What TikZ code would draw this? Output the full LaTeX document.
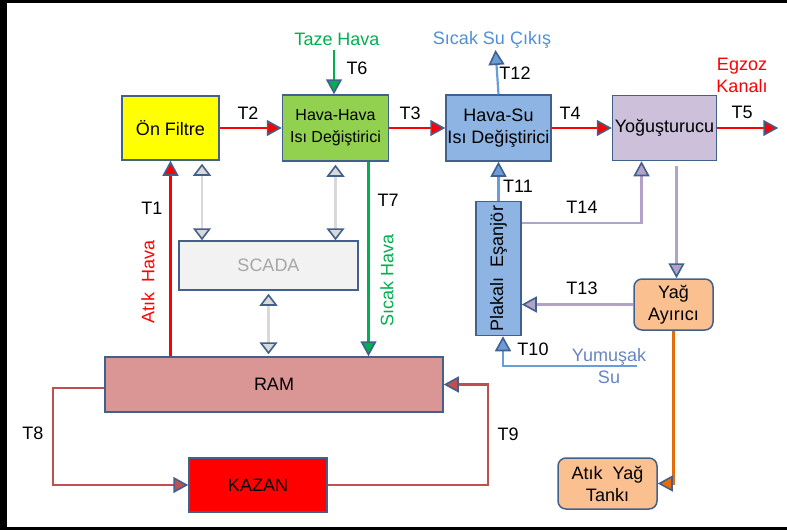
\documentclass[tikz,border=0pt]{standalone}
\usepackage{fontspec}
\setmainfont{Liberation Sans}
\usetikzlibrary{arrows.meta,positioning,calc}
\definecolor{boxline}{HTML}{41618C}
\definecolor{filteryellow}{HTML}{FFFF00}
\definecolor{hhgreen}{HTML}{92D050}
\definecolor{hsblue}{HTML}{8DB4E2}
\definecolor{condlilac}{HTML}{CCC0DA}
\definecolor{scadagray}{HTML}{F2F2F2}
\definecolor{scadatext}{HTML}{A6A6A6}
\definecolor{ramrose}{HTML}{D99694}
\definecolor{oilorange}{HTML}{FAC090}
\definecolor{flowred}{HTML}{FF0000}
\definecolor{flowgreen}{HTML}{00B050}
\definecolor{waterblue}{HTML}{6A9CDA}
\definecolor{lilacline}{HTML}{B3A2C7}
\definecolor{loopred}{HTML}{C0504D}
\definecolor{oilline}{HTML}{E46C0A}
\definecolor{linkgray}{HTML}{D9D9D9}
\definecolor{softblue}{HTML}{6685C0}
\definecolor{outblue}{HTML}{4F8FD8}
\newcommand\fs{\fontsize{18}{22}\selectfont}
\newcommand\fss{\fontsize{16}{22}\selectfont}

\begin{document}
\begin{tikzpicture}[x=1pt,y=-1pt,
  unit/.style={rectangle,draw=boxline,line width=1.5pt,align=center,inner sep=1pt,font=\fs},
  tankbox/.style={unit,rounded corners=8pt,fill=oilorange},
  flow/.style={line width=2.2pt,draw=#1,-{Triangle[length=15pt,width=16pt,color=boxline,fill=#1,line width=1.6pt]}},
  link/.style={line width=2.2pt,draw=linkgray,{Triangle[length=12pt,width=18pt,color=boxline,fill=linkgray,line width=1.6pt]}-{Triangle[length=12pt,width=18pt,color=boxline,fill=linkgray,line width=1.6pt]}},
  tag/.style={font=\fs,inner sep=0pt},
]
\useasboundingbox (0,0) rectangle (787,530);
% frame
\fill[black] (0,0) rectangle (7,530);
\fill[black] (0,0) rectangle (787,3);
\fill[black] (0,527) rectangle (787,530);

% top row
\node[unit,fill=filteryellow,minimum width=97pt,minimum height=64pt] (filter) at (170.5,128) {Ön Filtre};
\node[unit,fill=hhgreen,minimum width=106pt,minimum height=66pt,font=\fss,right=62pt of filter] (hh) {Hava-Hava\\Isı Değiştirici};
\node[unit,fill=hsblue,minimum width=105pt,minimum height=66pt,right=56pt of hh] (hs) {Hava-Su\\Isı Değiştirici};
\node[unit,fill=condlilac,minimum width=104pt,minimum height=65pt,right=60pt of hs] (yog) {Yoğuşturucu};
\coordinate[right=61pt of yog] (exhaust);
\coordinate (fresh) at (334,50);
\coordinate (hotout) at (495.5,50);

% lower units
\node[unit,fill=scadagray,text=scadatext,minimum width=179pt,minimum height=49pt] (scada) at (268.5,265.5) {SCADA};
\node[unit,fill=ramrose,minimum width=338pt,minimum height=55pt] (ram) at (274,384.5) {RAM};
\node[unit,fill=flowred,minimum width=138pt,minimum height=54pt] (kazan) at (258,485) {KAZAN};
\node[unit,fill=hsblue,minimum width=45pt,minimum height=134pt,below=39pt of hs] (esj) {};
\node[tag,rotate=90] at (esj) {Plakalı\ \ Eşanjör};
\node[tankbox,minimum width=79pt,minimum height=51pt] (yag) at (673.5,304.5) {Yağ\\Ayırıcı};
\node[tankbox,minimum width=99pt,minimum height=51pt] (tank) at (607.5,483.5) {Atık\ \ Yağ\\Tankı};
\coordinate (softin) at (637,366);

% flows
\draw[flow=flowred] (filter.south |- ram.north) -- (filter.south);
\draw[flow=flowred] (filter.east) -- (filter.east -| hh.west);
\draw[flow=flowred] (hh.east) -- (hs.west);
\draw[flow=flowred] (hs.east) -- (yog.west);
\draw[flow=flowred] (yog.east) -- (exhaust);
\draw[flow=flowgreen] (fresh) -- (fresh |- hh.north);
\draw[flow=flowgreen] ([xshift=33pt]hh.south) -- ([xshift=33pt]hh.south |- ram.north);
\draw[flow=waterblue] (hs.north) -- (hotout);
\draw[flow=waterblue] (esj.north) -- (hs.south);
\draw[flow=waterblue] (softin) -| ([xshift=4.5pt]esj.south);
\draw[flow=lilacline] ([yshift=-22pt]esj.north east) -| ([xshift=-23pt]yog.south);
\draw[flow=lilacline] ([xshift=12pt,yshift=-5pt]yog.south) -- ([xshift=12pt]yog.south |- yag.north);
\draw[flow=lilacline] (yag.west) -- (yag.west -| esj.east);
\draw[flow=oilline] (yag.south) |- (tank.east);
\draw[flow=loopred] ([yshift=-3.5pt]ram.west) -- ++(-51,0) |- (kazan.west);
\draw[flow=loopred] (kazan.east) -- ++(160,0) |- (ram.east);

% scada links
\draw[link] ([xshift=31.5pt,yshift=-3pt]filter.south) -- ([xshift=31.5pt]filter.south |- scada.north);
\draw[link] ([yshift=-3pt]hh.south) -- (hh.south |- scada.north);
\draw[link] ([yshift=-3pt]scada.south) -- ([yshift=2pt]scada.south |- ram.north);

% labels
\node[tag] (t1) at (152,208) {T1};
\node[tag] (t2) at (248,113) {T2};
\node[tag] (t3) at (410,113) {T3};
\node[tag] (t4) at (570,113) {T4};
\node[tag] (t5) at (742,112) {T5};
\node[tag] (t6) at (357,68) {T6};
\node[tag] (t7) at (388,200) {T7};
\node[tag] (t8) at (33,433) {T8};
\node[tag] (t9) at (508,434) {T9};
\node[tag] (t10) at (533,349) {T10};
\node[tag] (t11) at (518,186) {T11};
\node[tag] (t12) at (515,73) {T12};
\node[tag] (t13) at (582,288) {T13};
\node[tag] (t14) at (582,207) {T14};
\node[tag,text=flowgreen] (freshlbl) at (337,39) {Taze Hava};
\node[tag,text=outblue] (hotoutlbl) at (492,40) {Sıcak\ Su Çıkış};
\node[tag,text=flowred,align=center] (exhaustlbl) at (742,75) {Egzoz\\Kanalı};
\node[tag,text=flowred,rotate=90] (wastelbl) at (148,282) {Atık\ \ Hava};
\node[tag,text=flowgreen,rotate=90] (hotairlbl) at (387,280) {Sıcak\ Hava};
\node[tag,text=softblue,align=center] (softlbl) at (609,366) {Yumuşak\\Su};
\end{tikzpicture}
\end{document}
